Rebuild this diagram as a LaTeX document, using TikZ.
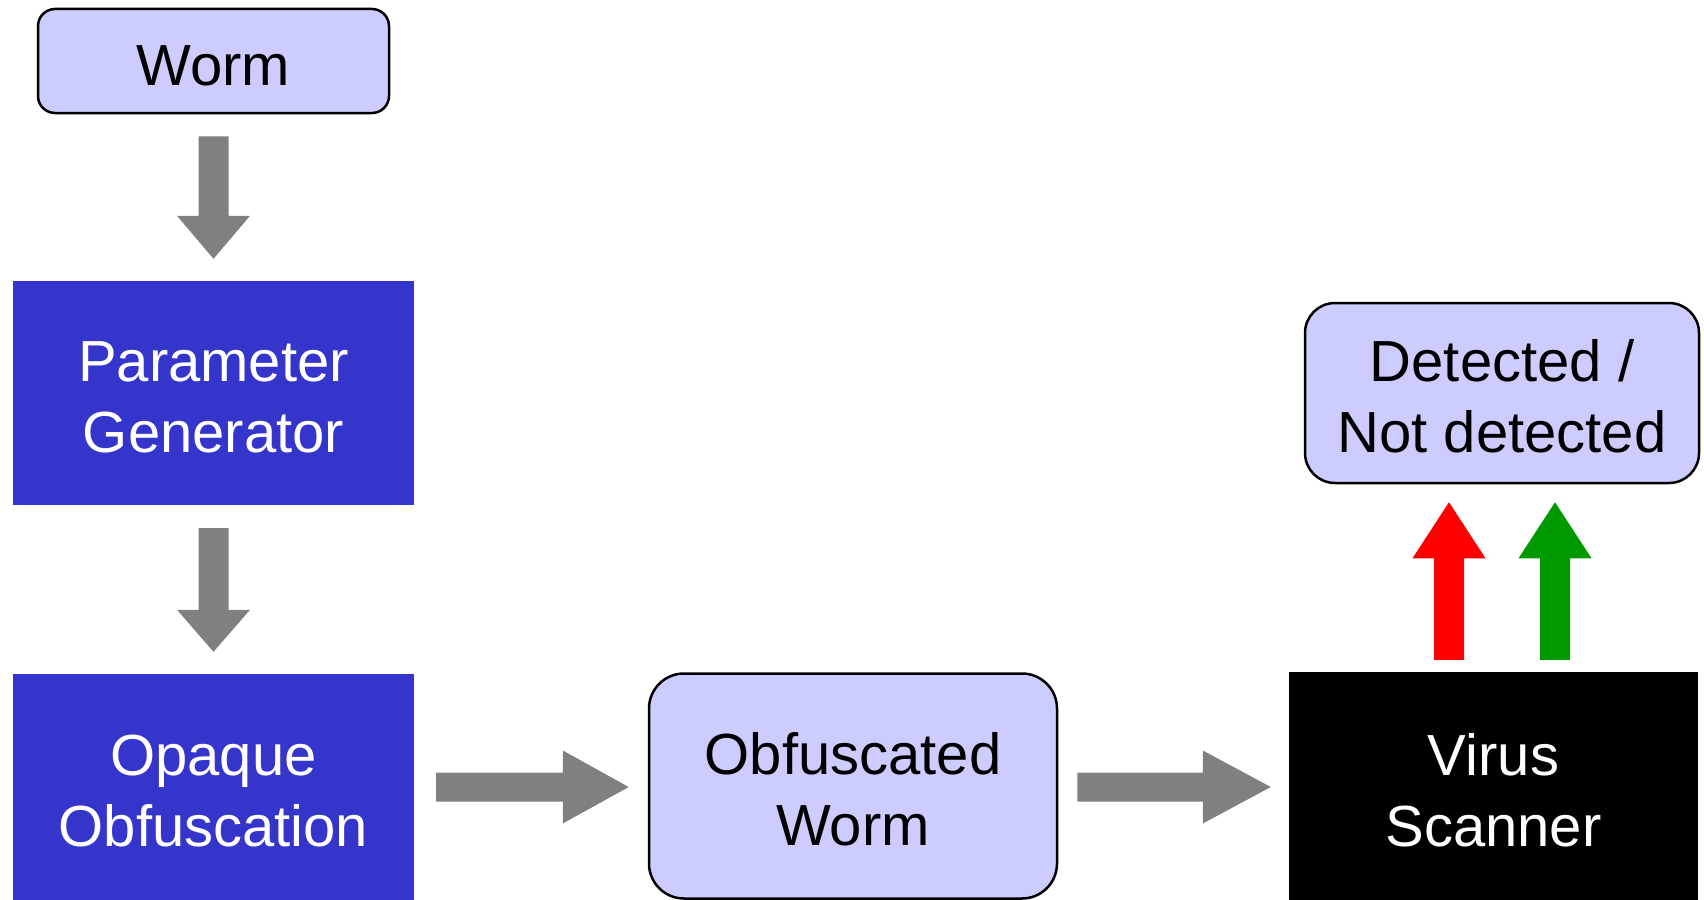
\documentclass[tikz,border=0pt]{standalone}
\usepackage{fontspec}
\setmainfont{Liberation Sans}
\usetikzlibrary{calc}
\definecolor{lav}{HTML}{CCCCFF}
\definecolor{dblue}{HTML}{3535CC}
\definecolor{agray}{HTML}{808080}
\definecolor{agreen}{HTML}{009900}
\newcommand\tstrut{\rule{0pt}{49pt}}
\tikzset{
  lbl/.style={font=\fontsize{58}{71}\selectfont, align=center, inner sep=0pt, anchor=center},
  lavbox/.style={lbl, rectangle, rounded corners=#1, fill=lav, draw=black, line width=2.5pt},
  bluebox/.style={lbl, rectangle, fill=dblue, text=white},
  blackbox/.style={lbl, rectangle, fill=black, text=white},
  blockarrow/.style n args={5}{to path={
    ($(\tikztostart)!#1!(\tikztotarget)!#4!90:(\tikztotarget)$) --
    ($(\tikztostart)!#1!(\tikztotarget)!#4!-90:(\tikztotarget)$) --
    ($(\tikztotarget)!#3!(\tikztostart)!#4!90:(\tikztostart)$) --
    ($(\tikztotarget)!#3!(\tikztostart)!#5!90:(\tikztostart)$) --
    ($(\tikztotarget)!#2!(\tikztostart)$) --
    ($(\tikztotarget)!#3!(\tikztostart)!#5!-90:(\tikztostart)$) --
    ($(\tikztotarget)!#3!(\tikztostart)!#4!-90:(\tikztostart)$) -- cycle}}
}
\begin{document}
\begin{tikzpicture}[x=1pt,y=-1pt]
\useasboundingbox (0,0) rectangle (1704,899);

\node[lavbox=17pt, minimum width=351pt, minimum height=104pt] (worm) at (213.5,61) {\tstrut Worm};
\node[bluebox, minimum width=401pt, minimum height=224pt] (param) at (213.5,393) {\tstrut Parameter\\Generator};
\node[bluebox, minimum width=401pt, minimum height=226pt] (opaque) at (213.5,787) {\tstrut Opaque\\Obfuscation};
\node[lavbox=35pt, minimum width=408pt, minimum height=225pt] (obf) at (853,786) {\tstrut Obfuscated\\Worm};
\node[blackbox, minimum width=409pt, minimum height=230pt] (virus) at (1493.5,787) {\tstrut Virus\\Scanner};
\node[lavbox=30pt, minimum width=394pt, minimum height=180pt] (det) at (1502,393) {\tstrut Detected /\\Not detected};

\coordinate (r0) at ([xshift=-44.5pt]virus.north);
\coordinate (g0) at ([xshift=61.5pt]virus.north);

\fill[agray] (worm.south) to[blockarrow={22pt}{22pt}{65pt}{15pt}{36.5pt}] (param.north);
\fill[agray] (param.south) to[blockarrow={23pt}{22pt}{64pt}{15pt}{36.5pt}] (opaque.north);
\fill[agray] (opaque.east) to[blockarrow={22pt}{19pt}{85pt}{14.5pt}{36.5pt}] (opaque.east -| obf.west);
\fill[agray] (opaque.east -| obf.east) to[blockarrow={19pt}{18pt}{86pt}{14.5pt}{36.5pt}] (opaque.east -| virus.west);
\fill[red] (r0) to[blockarrow={12pt}{18pt}{74pt}{15pt}{36.5pt}] (r0 |- det.south);
\fill[agreen] (g0) to[blockarrow={12pt}{18pt}{74pt}{15pt}{36.5pt}] (g0 |- det.south);
\end{tikzpicture}
\end{document}
